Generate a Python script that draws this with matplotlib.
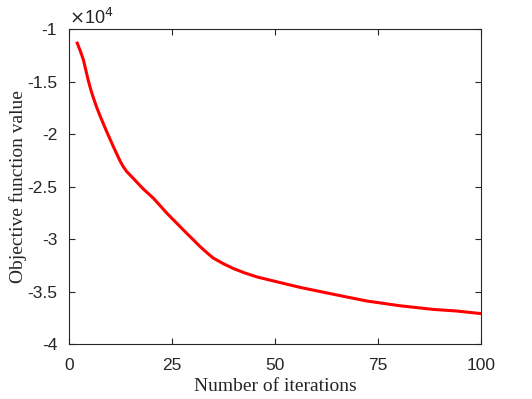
import numpy as np
import matplotlib
matplotlib.use("Agg")
import matplotlib.pyplot as plt
from matplotlib.ticker import FuncFormatter

# values (objective value per iteration, x1e4)
iters = [2, 2.7, 3.5, 4.1, 4.7, 5.3, 5.9, 6.7, 7.5, 9.1, 10.8, 12.4, 13.2, 14.0,
         15.6, 18.0, 20.5, 23.7, 27.7, 31.8, 33.5, 35, 37.5, 39.9, 42.5, 45.6,
         50.8, 56.1, 61, 66.6, 72.3, 80.3, 88.4, 94, 100]
obj = [-1.13, -1.20, -1.29, -1.39, -1.49, -1.575, -1.65, -1.74, -1.82, -1.97,
       -2.12, -2.255, -2.31, -2.355, -2.42, -2.52, -2.61, -2.75, -2.91, -3.07,
       -3.13, -3.18, -3.235, -3.28, -3.32, -3.36, -3.41, -3.46, -3.50, -3.545,
       -3.59, -3.635, -3.67, -3.685, -3.71]
obj = [v * 1e4 for v in obj]

xticks = [0, 25, 50, 75, 100]
yticks = [-4e4, -3.5e4, -3e4, -2.5e4, -2e4, -1.5e4, -1e4]

plt.rcParams['axes.unicode_minus'] = False
plt.rcParams['font.family'] = 'Liberation Sans'

fig = plt.figure(figsize=(5.32, 3.99), dpi=100)
ax = fig.add_axes([69/532, 1 - 344/399, 412/532, 314.5/399])

ax.plot(iters, obj, color='red', lw=2.2, solid_joinstyle='round')

ax.set_xlim(0, 100)
ax.set_ylim(-4e4, -1e4)
ax.set_xticks(xticks)
ax.set_yticks(yticks)
ax.yaxis.set_major_formatter(FuncFormatter(lambda v, p: '%g' % (v / 1e4)))

gray = '#262626'
for s in ax.spines.values():
    s.set_color(gray)
    s.set_linewidth(0.8)
ax.tick_params(direction='in', length=4, width=0.8, color=gray,
               labelsize=12.5, labelcolor=gray, top=True, right=True)
ax.tick_params(axis='x', pad=10)
ax.tick_params(axis='y', pad=8.5)

ax.set_xlabel('Number of iterations', family='Liberation Serif', fontsize=14,
              color=gray, labelpad=4)
ax.set_ylabel('Objective function value', family='Liberation Serif', fontsize=14,
              color=gray, labelpad=0)

ax.text(0.0, 1.005, r'$\times$10$^4$', transform=ax.transAxes, fontsize=13,
        color=gray, ha='left', va='bottom', family='Liberation Sans')

fig.savefig('out.png', dpi=100)
